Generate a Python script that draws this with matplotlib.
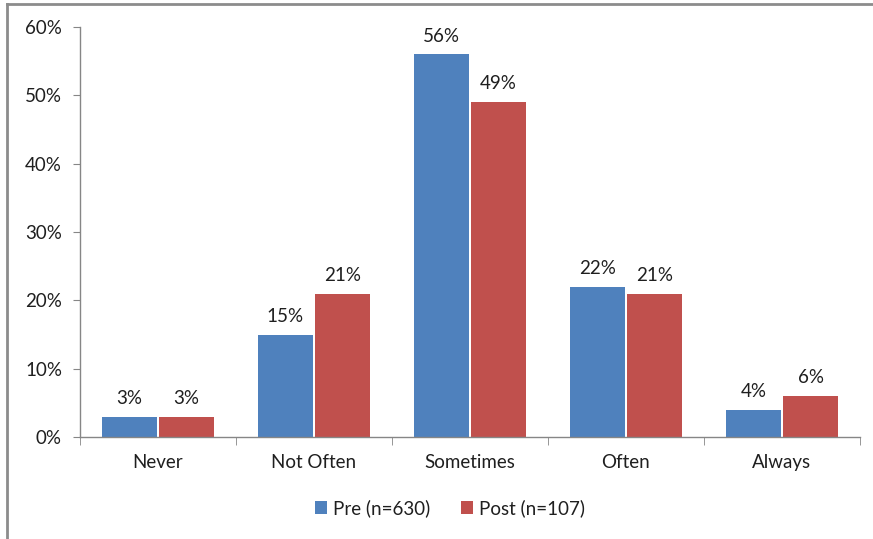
import numpy as np
import matplotlib
matplotlib.use('Agg')
import matplotlib.pyplot as plt
from matplotlib.lines import Line2D

plt.rcParams['font.family'] = ['Lato', 'DejaVu Sans']

# data
categories = ['Never', 'Not Often', 'Sometimes', 'Often', 'Always']
pre = [3, 15, 56, 22, 4]
post = [3, 21, 49, 21, 6]
series_names = ['Pre (n=630)', 'Post (n=107)']
yticks = [0, 10, 20, 30, 40, 50, 60]

blue = '#4F81BD'
red = '#C0504D'
grey = '#868686'
txt = '#1f1f1f'
fs = 13.5

fig = plt.figure(figsize=(8.73, 5.39), dpi=100)
ax = fig.add_axes([80 / 873, 1 - 437 / 539, (860 - 80) / 873, (437 - 27) / 539])

x = np.arange(len(categories))
w = 0.352
off = w / 2 + 0.007
b1 = ax.bar(x - off, pre, w, color=blue, label=series_names[0])
b2 = ax.bar(x + off, post, w, color=red, label=series_names[1])

for bars, vals in ((b1, pre), (b2, post)):
    for b, v in zip(bars, vals):
        ax.annotate('{}%'.format(v), (b.get_x() + b.get_width() / 2, v),
                    xytext=(0, 7), textcoords='offset points',
                    ha='center', va='bottom', fontsize=fs, color=txt)

ax.set_xlim(-0.5, len(categories) - 0.5)
ax.set_ylim(0, 60)
ax.set_yticks(yticks)
ax.set_yticklabels(['{}%'.format(t) for t in yticks])
ax.set_xticks(x)
ax.set_xticklabels(categories)
ax.set_xticks(np.arange(-0.5, len(categories), 1.0), minor=True)

for s in ['top', 'right']:
    ax.spines[s].set_visible(False)
for s in ['left', 'bottom']:
    ax.spines[s].set_color(grey)
    ax.spines[s].set_linewidth(1)

ax.tick_params(axis='x', which='major', length=0, pad=12, labelsize=fs, colors=txt)
ax.tick_params(axis='x', which='minor', length=6, color=grey, direction='out')
ax.tick_params(axis='y', length=5, color=grey, pad=8, labelsize=fs, colors=txt)

fig.legend(handles=[b1, b2], loc='center', bbox_to_anchor=(450 / 873, 1 - 508 / 539),
           ncol=2, frameon=False, fontsize=fs, handlelength=0.65, handleheight=0.65,
           handletextpad=0.35, columnspacing=1.6, labelcolor=txt)

# outer chart border (top and left visible)
fig.add_artist(Line2D([7 / 873, 7 / 873], [0, 1 - 4 / 539], transform=fig.transFigure,
                      color='#8c8c8c', lw=2))
fig.add_artist(Line2D([7 / 873, 1], [1 - 4 / 539, 1 - 4 / 539], transform=fig.transFigure,
                      color='#8c8c8c', lw=2))

fig.savefig('out.png', dpi=100)
